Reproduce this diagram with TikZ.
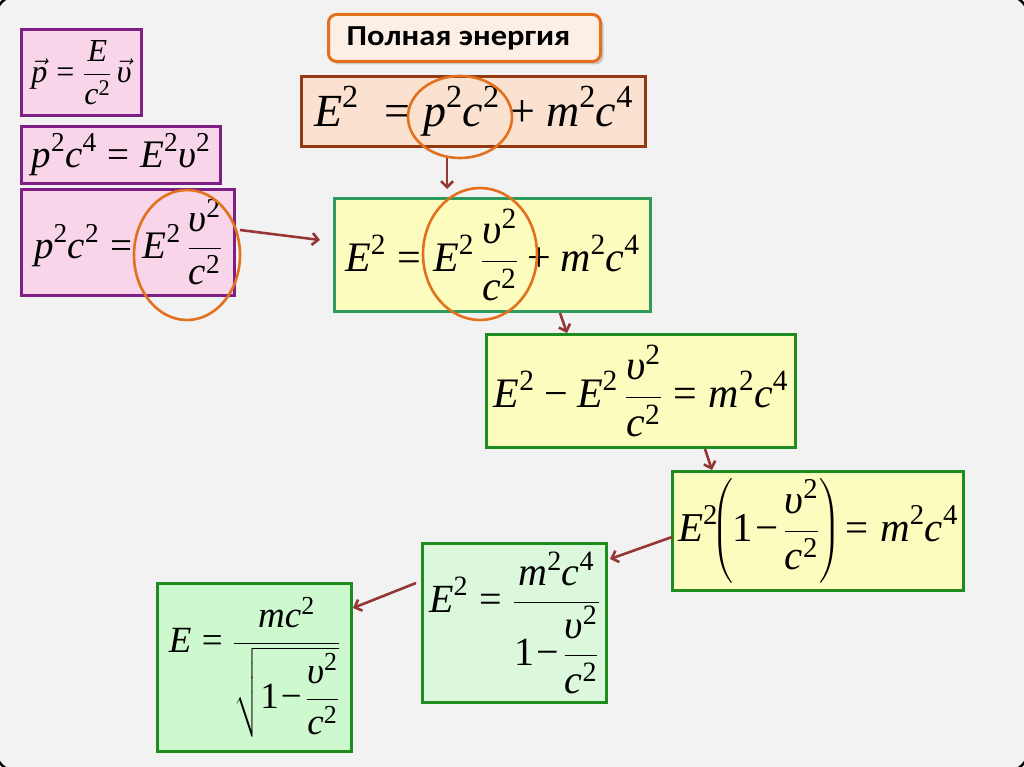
\RequirePackage{fix-cm}
\documentclass[tikz,border=0pt]{standalone}
\usepackage{amsmath}
\usepackage{graphicx}
\usepackage{fontspec}
\setmainfont{Liberation Serif}
\newfontfamily\titlefont{Carlito}
\usetikzlibrary{arrows.meta,calc,shadows}
\renewcommand\defaultscriptratio{.7}
\renewcommand\defaultscriptscriptratio{.5}
\definecolor{bggray}{HTML}{F2F2F2}
\definecolor{pinkfill}{HTML}{F8D5E8}
\definecolor{purpleline}{HTML}{7F1F86}
\definecolor{peachfill}{HTML}{FBE2D0}
\definecolor{brownline}{HTML}{943A10}
\definecolor{yellowfill}{HTML}{FCFCBE}
\definecolor{tealline}{HTML}{2E9A5E}
\definecolor{greenline}{HTML}{1E8C1E}
\definecolor{greenfillA}{HTML}{DCF8DC}
\definecolor{greenfillB}{HTML}{CEF8CE}
\definecolor{orangeline}{HTML}{E2701C}
\definecolor{titlefill}{HTML}{FCEFE6}
\definecolor{arrowred}{HTML}{953735}
\newcommand\Mi[1]{\text{\itshape #1}}
\newcommand\Dg[1]{\text{#1}}
\newcommand\Eq{\mathrel{\text{=}}}
\newcommand\Pl{\mathbin{\text{+}}}
\newcommand\Mn{\mathbin{\text{−}}}
\newcommand\OneMinus{\text{1}\mkern1mu\text{−}\mkern2mu}
\newcommand\Up{\Mi{υ}}
\begin{document}
\begin{tikzpicture}[x=1pt,y=-1pt,
  eqbox/.style={draw, line width=3pt, inner sep=0pt, align=center},
  pinkbox/.style={eqbox, draw=purpleline, fill=pinkfill},
  peachbox/.style={eqbox, draw=brownline, fill=peachfill},
  yellowbox/.style={eqbox, draw=greenline, fill=yellowfill},
  greenbox/.style={eqbox, draw=greenline},
  hl/.style={draw=orangeline, line width=2.6pt},
  arr/.style={draw=arrowred, line width=2.6pt, -{Straight Barb[length=6pt,width=12pt]}}]
\useasboundingbox (0,0) rectangle (1024,767);
\fill[white] (0,0) rectangle (1024,767);
\draw[black, line width=2.5pt, fill=bggray, rounded corners=20pt] (-4,-4) rectangle (1028,771);

% title
\node[draw=orangeline, fill=titlefill, line width=3pt, rounded corners=8pt,
  minimum width=272, minimum height=47, inner sep=0pt,
  drop shadow={shadow xshift=3pt, shadow yshift=-3pt, opacity=0.35, fill=gray},
  font=\titlefont\bfseries\fontsize{29}{34}\selectfont] (title) at (464.5,38)
  {\hspace*{-12pt}\scalebox{1.12}[1]{Полная энергия}};

% left pink boxes
\node[pinkbox, minimum width=120, minimum height=86, font=\fontsize{32}{38}\selectfont] (b1) at (81.5,72.5)
  {$\displaystyle \vec{\Mi{p}} \Eq \frac{\Mi{E}}{\Mi{c}^{\Dg2}}\,\vec{\Up}$};
\node[pinkbox, minimum width=199, minimum height=57, font=\fontsize{39}{46}\selectfont] (b2) at (121,155)
  {$\displaystyle \Mi{p}^{\Dg2}\Mi{c}^{\Dg4} \Eq \Mi{E}^{\Dg2}\Up^{\Dg2}$};
\node[pinkbox, minimum width=213, minimum height=106, font=\fontsize{39}{46}\selectfont] (b3) at (128,242.5)
  {$\displaystyle \Mi{p}^{\Dg2}\Mi{c}^{\Dg2} \Eq \Mi{E}^{\Dg2}\,\frac{\Up^{\Dg2}}{\Mi{c}^{\Dg2}}$};

% main chain
\node[peachbox, minimum width=344, minimum height=70, font=\fontsize{46}{55}\selectfont] (b4) at (473.5,111.5)
  {$\displaystyle \Mi{E}^{\Dg2}\;\Eq \Mi{p}^{\Dg2}\Mi{c}^{\Dg2} \Pl \Mi{m}^{\Dg2}\Mi{c}^{\Dg4}$};
\node[yellowbox, draw=tealline, minimum width=316, minimum height=113, font=\fontsize{42}{50}\selectfont] (b5) at (492.5,255)
  {$\displaystyle \Mi{E}^{\Dg2} \Eq \Mi{E}^{\Dg2}\,\frac{\Up^{\Dg2}}{\Mi{c}^{\Dg2}} \Pl \Mi{m}^{\Dg2}\Mi{c}^{\Dg4}$};
\node[yellowbox, minimum width=309, minimum height=113, font=\fontsize{42}{50}\selectfont] (b6) at (641,391)
  {$\displaystyle \Mi{E}^{\Dg2} \Mn \Mi{E}^{\Dg2}\,\frac{\Up^{\Dg2}}{\Mi{c}^{\Dg2}} \Eq \Mi{m}^{\Dg2}\Mi{c}^{\Dg4}$};
\node[yellowbox, minimum width=291, minimum height=119, font=\fontsize{41}{49}\selectfont] (b7) at (818,531)
  {$\displaystyle \Mi{E}^{\Dg2}\!\mathopen{}\left(\OneMinus\frac{\Up^{\Dg2}}{\Mi{c}^{\Dg2}}\right)\!\Eq \Mi{m}^{\Dg2}\Mi{c}^{\Dg4}$};
\node[greenbox, fill=greenfillA, minimum width=184, minimum height=159, font=\fontsize{40}{48}\selectfont] (b8) at (514.5,623)
  {$\displaystyle \Mi{E}^{\Dg2} \Eq \frac{\Mi{m}^{\Dg2}\Mi{c}^{\Dg4}}{\OneMinus\dfrac{\Up^{\Dg2}}{\Mi{c}^{\Dg2}}}$};
\node[greenbox, fill=greenfillB, minimum width=194, minimum height=168, font=\fontsize{37}{44}\selectfont] (b9) at (254.5,667.5)
  {$\displaystyle \Mi{E} \Eq \frac{\Mi{m}\Mi{c}^{\Dg2}}{\sqrt{\OneMinus\dfrac{\Up^{\Dg2}}{\Mi{c}^{\Dg2}}}}$};

% highlight ellipses
\draw[hl] (187,255) ellipse [x radius=53, y radius=65];
\draw[hl] (460,117) ellipse [x radius=52, y radius=41];
\draw[hl] (480,254) ellipse [x radius=57, y radius=66];

% arrows
\draw[arr] ($(b4.south)+(-26.5,10)$) -- ($(b5.north)+(-45.5,-8)$);
\draw[arr] ($(b3.east)+(4,-12.5)$) -- ($(b5.west)+(-13,-15)$);
\draw[arr] ($(b5.south)+(67.5,0)$) -- ($(b6.north)+(-74,0)$);
\draw[arr] ($(b6.south)+(64,0)$) -- ($(b7.north)+(-106,0)$);
\draw[arr] ($(b7.west)+(1,6)$) -- ($(b8.east)+(2,-64)$);
\draw[arr] ($(b8.west)+(-5,-40)$) -- ($(b9.east)+(0,-59.5)$);
\end{tikzpicture}
\end{document}
